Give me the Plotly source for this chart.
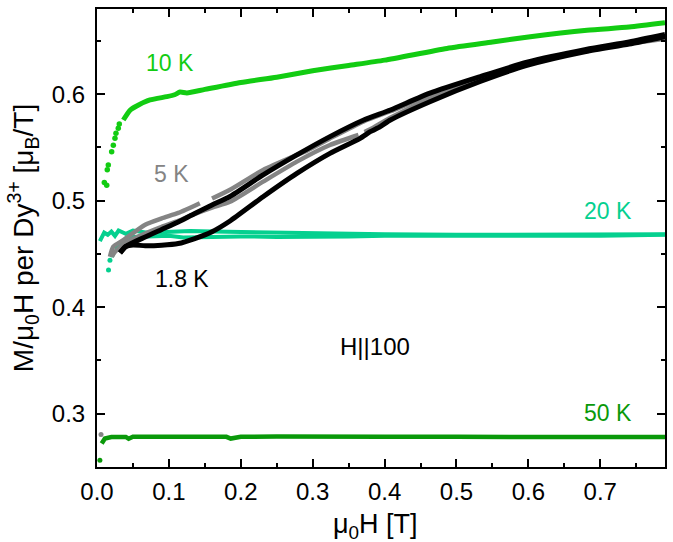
import plotly.graph_objects as go

# ---------------- data ----------------
# 10 K: sparse low-field points and the dense continuous part
H_10K_start = [0.0102, 0.0135, 0.0143, 0.0157, 0.0204, 0.0227, 0.025, 0.0264, 0.0296, 0.031]
M_10K_start = [0.517, 0.5145, 0.529, 0.5336, 0.546, 0.552, 0.5586, 0.5633, 0.568, 0.572]
H_10K = [0.0366, 0.046, 0.0552, 0.0737, 0.097, 0.108, 0.1155, 0.125, 0.15, 0.2, 0.25,
         0.3, 0.35, 0.4, 0.4866, 0.55, 0.6026, 0.6815, 0.74, 0.79]
M_10K = [0.5758, 0.585, 0.589, 0.5946, 0.5977, 0.5995, 0.602, 0.6012, 0.6045, 0.611, 0.616,
         0.622, 0.627, 0.632, 0.643, 0.649, 0.654, 0.660, 0.663, 0.667]

# 20 K: two sweeps
H_20K_a = [0.004, 0.01, 0.015, 0.02, 0.025, 0.03, 0.04, 0.05, 0.07, 0.1, 0.13, 0.16, 0.2,
           0.25, 0.3, 0.35, 0.4, 0.5, 0.6, 0.7, 0.79]
M_20K_a = [0.462, 0.470, 0.468, 0.471, 0.467, 0.472, 0.469, 0.472, 0.470, 0.471, 0.4715,
           0.471, 0.4705, 0.4705, 0.470, 0.469, 0.4685, 0.468, 0.468, 0.468, 0.4685]
H_20K_b = [0.025, 0.035, 0.05, 0.08, 0.1, 0.12, 0.15, 0.17, 0.2, 0.25, 0.3,
           0.35, 0.4, 0.5, 0.6, 0.7, 0.79]
M_20K_b = [0.455, 0.462, 0.466, 0.4665, 0.467, 0.4655, 0.466, 0.4665, 0.4665,
           0.466, 0.466, 0.4665, 0.467, 0.467, 0.467, 0.467, 0.468]
H_20K_dots = [0.016, 0.018, 0.021]
M_20K_dots = [0.435, 0.444, 0.449]

# 50 K
H_50K_start = [0.004]
M_50K_start = [0.2563]
H_50K = [0.0065, 0.011, 0.02, 0.03, 0.04, 0.044, 0.05, 0.07, 0.1, 0.15, 0.18, 0.186, 0.2,
         0.25, 0.3, 0.4, 0.5, 0.6, 0.65, 0.7, 0.79]
M_50K = [0.272, 0.2767, 0.2782, 0.2784, 0.2782, 0.2765, 0.2784, 0.2784, 0.2783, 0.2783,
         0.2783, 0.2767, 0.2783, 0.2787, 0.2783, 0.2783, 0.2783, 0.2782, 0.2777, 0.2783, 0.2782]

# 5 K: two branches (None = gap in the data)
H_5K_a = [0.018, 0.0227, 0.0366, 0.067, 0.09, 0.113, 0.143, None, 0.16, 0.187, 0.231,
          0.278, 0.292, 0.324, 0.371, 0.408, 0.463, 0.533, 0.598, 0.68, 0.79]
M_5K_a = [0.4474, 0.4568, 0.463, 0.4775, 0.4835, 0.4885, 0.4976, None, 0.502, 0.511, 0.5289,
          0.543, 0.547, 0.5585, 0.5745, 0.584, 0.599, 0.615, 0.628, 0.641, 0.653]
H_5K_b = [0.0205, 0.025, 0.035, 0.05, 0.07, 0.09, 0.113, 0.13, 0.16, 0.185, 0.231, 0.278,
          0.324, 0.3637, None, 0.372, 0.38, 0.408, 0.463, 0.533, 0.598, 0.68, 0.79]
M_5K_b = [0.4474, 0.452, 0.458, 0.464, 0.470, 0.4755, 0.481, 0.486, 0.4935, 0.499, 0.5179,
          0.5367, 0.5523, 0.5617, None, 0.5645, 0.567, 0.578, 0.5955, 0.6135, 0.628, 0.641, 0.652]
H_5K_dot = [0.0056]
M_5K_dot = [0.2805]

# 1.8 K: two branches
H_18K_a = [0.032, 0.04, 0.067, 0.09, 0.113, 0.136, 0.16, 0.185, 0.231, 0.278, 0.324, 0.371,
           0.408, 0.463, 0.533, 0.598, 0.68, 0.74, 0.79]
M_18K_a = [0.451, 0.457, 0.466, 0.473, 0.480, 0.488, 0.496, 0.504, 0.5242, 0.543, 0.5602,
           0.5758, 0.5852, 0.601, 0.6165, 0.630, 0.642, 0.649, 0.656]
H_18K_b = [0.032, 0.04, 0.05, 0.067, 0.09, 0.113, 0.136, 0.16, 0.185, 0.231, 0.278, 0.324,
           0.366, 0.38, 0.394, 0.408, 0.463, 0.533, 0.598, 0.68, 0.74, 0.79]
M_18K_b = [0.451, 0.457, 0.4585, 0.4577, 0.4582, 0.4598, 0.4645, 0.4709, 0.481, 0.5038,
           0.5257, 0.5445, 0.5586, 0.5648, 0.5696, 0.5758, 0.593, 0.612, 0.627, 0.640, 0.647, 0.654]

# labels
label_text = ["10 K", "5 K", "1.8 K", "20 K", "50 K", "H||100"]
label_x = [0.1016, 0.103, 0.1178, 0.711, 0.711, 0.3869]
label_y = [0.6294, 0.5251, 0.4264, 0.4903, 0.3009, 0.3628]
x_title = "μ<sub>0</sub>H [T]"
y_title = "M/μ<sub>0</sub>H per Dy<sup>3+</sup> [μ<sub>B</sub>/T]"

# ---------------- styles ----------------
C10 = "#12cc12"
C20 = "#05d08f"
C50 = "#0a990a"
C5 = "#848484"
C18 = "#000000"
label_colors = [C10, C5, C18, C20, C50, "#000000"]

fig = go.Figure()


def add_line(x, y, color, width=4.5, shape="linear"):
    fig.add_trace(go.Scatter(x=x, y=y, mode="lines", connectgaps=False,
                             line=dict(color=color, width=width, shape=shape,
                                       smoothing=0.6 if shape == "spline" else None),
                             hoverinfo="skip"))


def add_dots(x, y, color, size=5):
    fig.add_trace(go.Scatter(x=x, y=y, mode="markers",
                             marker=dict(color=color, size=size, line=dict(width=0)),
                             hoverinfo="skip"))


add_dots(H_50K_start, M_50K_start, C50)
add_line(H_50K, M_50K, C50, 4.5)
add_dots(H_5K_dot, M_5K_dot, C5)
add_dots(H_20K_dots, M_20K_dots, C20)
add_line(H_20K_a, M_20K_a, C20, 4)
add_line(H_20K_b, M_20K_b, C20, 4)
add_dots(H_10K_start, M_10K_start, C10, 5.5)
add_line(H_10K, M_10K, C10, 5, "spline")
add_line(H_5K_a, M_5K_a, C5, 4.5, "spline")
add_line(H_5K_b, M_5K_b, C5, 4.5, "spline")
add_line(H_18K_a, M_18K_a, C18, 5, "spline")
add_line(H_18K_b, M_18K_b, C18, 5, "spline")

for t, x, y, c in zip(label_text, label_x, label_y, label_colors):
    fig.add_annotation(x=x, y=y, xref="x", yref="y", text=t, showarrow=False,
                       font=dict(color=c, size=24 if t == "H||100" else 23),
                       xanchor="center", yanchor="middle")

# x-axis title placed as paper-referenced text so it sits where the reference has it
fig.add_annotation(x=0.491, y=-0.128, xref="paper", yref="paper", text=x_title,
                   showarrow=False, font=dict(size=27, color="black"),
                   xanchor="center", yanchor="middle")

axis_common = dict(
    showline=True, linecolor="black", linewidth=2, mirror="allticks",
    ticks="inside", ticklen=8, tickwidth=1.6, tickcolor="black",
    showgrid=False, zeroline=False,
    tickfont=dict(size=24, color="black"),
)

fig.update_xaxes(
    range=[0, 0.79], tickvals=[0, 0.1, 0.2, 0.3, 0.4, 0.5, 0.6, 0.7], tickformat=".1f",
    minor=dict(dtick=0.05, tick0=0, ticks="inside", ticklen=4, tickwidth=1.6,
               tickcolor="black", showgrid=False),
    ticklabelstandoff=2,
    **axis_common,
)
fig.update_yaxes(
    range=[0.25, 0.68], tickvals=[0.3, 0.4, 0.5, 0.6], tickformat=".1f",
    minor=dict(dtick=0.05, tick0=0.25, ticks="inside", ticklen=4, tickwidth=1.6,
               tickcolor="black", showgrid=False),
    title=dict(text=y_title, font=dict(size=28), standoff=10),
    ticklabelstandoff=5,
    **axis_common,
)

fig.update_layout(
    width=673, height=542,
    margin=dict(l=97, r=8, t=9, b=75, autoexpand=False),
    paper_bgcolor="white", plot_bgcolor="white",
    showlegend=False,
    font=dict(family="Liberation Sans, Arial, sans-serif", size=22, color="black"),
)

fig.write_html("out.html",
               config={"displayModeBar": False},
               post_script="document.body.style.margin='0';document.body.style.overflow='hidden';")
